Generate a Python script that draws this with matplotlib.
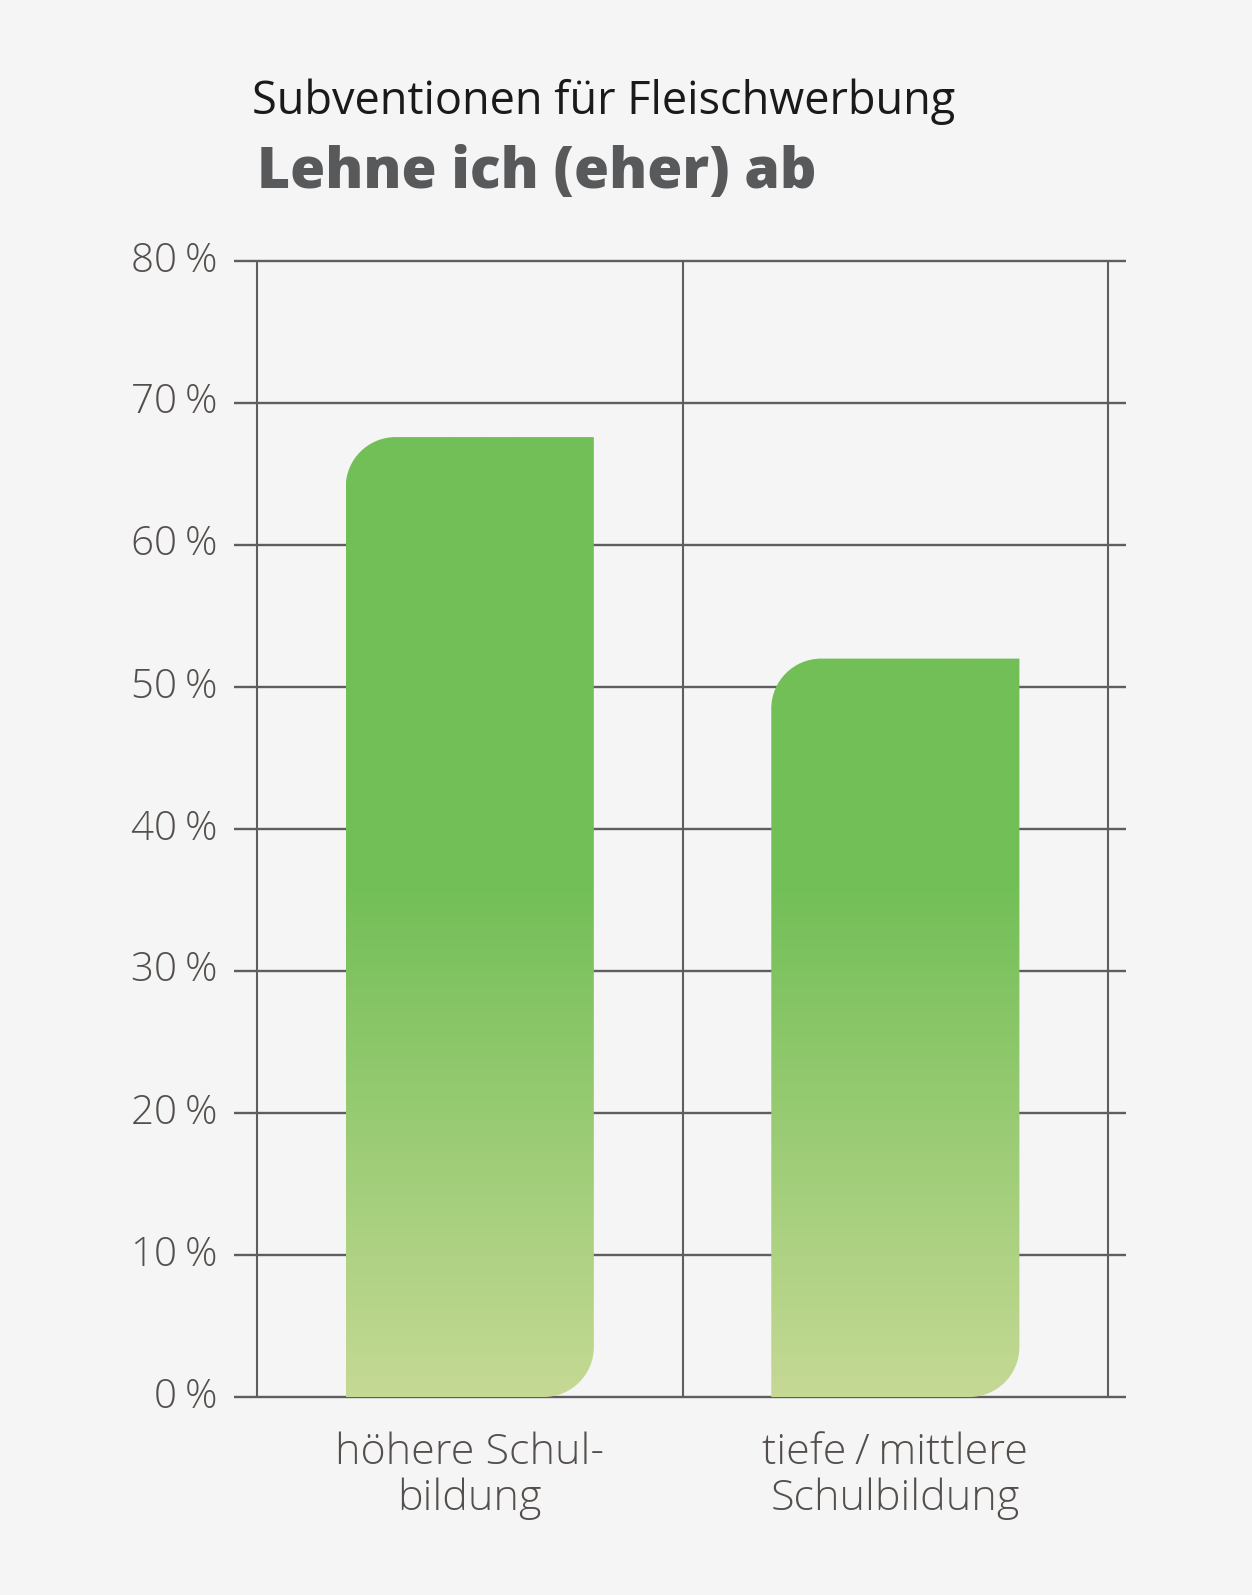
import numpy as np
import matplotlib
matplotlib.use("Agg")
import matplotlib.pyplot as plt
from matplotlib.path import Path
from matplotlib.patches import PathPatch
from matplotlib.colors import LinearSegmentedColormap

# data
categories = ["höhere Schul-\nbildung", "tiefe\u2009/\u2009mittlere\nSchulbildung"]
values = [67.6, 52.0]
y_ticks = [0, 10, 20, 30, 40, 50, 60, 70, 80]
title_top = "Subventionen für Fleischwerbung"
title_main = "Lehne ich (eher) ab"

W, H, DPI = 1252, 1595, 100
bg = "#f5f5f5"
grid_col = "#5e5e5e"
text_col = "#544f4c"

plt.rcParams['font.family'] = ['Open Sans', 'DejaVu Sans']

fig = plt.figure(figsize=(W / DPI, H / DPI), dpi=DPI, facecolor=bg)

# axes box in pixels: left 234, right 1126, top 261 (80 %), bottom 1397 (0 %)
px_l, px_r, px_t, px_b = 234, 1126, 261, 1397
ax = fig.add_axes([px_l / W, 1 - px_b / H, (px_r - px_l) / W, (px_b - px_t) / H])
ax.set_facecolor(bg)
x_lo, x_hi = -0.554, 1.542
ax.set_xlim(x_lo, x_hi)
ax.set_ylim(0, 80)
for s in ax.spines.values():
    s.set_visible(False)
ax.set_xticks([])
ax.set_yticks([])

# grid
ax.hlines(y_ticks, x_lo, x_hi, color=grid_col, lw=1.7, zorder=1, clip_on=False)
ax.vlines([-0.5, 0.5, 1.5], 0, 80, color=grid_col, lw=1.5, zorder=1, clip_on=False)

# bars with rounded top-left / bottom-right corners and vertical gradient
bar_w = 0.583
r_px = 50
px_per_x = (px_r - px_l) / (x_hi - x_lo)
px_per_y = (px_b - px_t) / 80
rx, ry = r_px / px_per_x, r_px / px_per_y
k = 0.5523

cmap = LinearSegmentedColormap.from_list(
    "g", [(0, "#c5d994"), (0.45, "#72bf57"), (1, "#72bf57")])
grad = np.linspace(0, 1, 400).reshape(-1, 1)

for i, v in enumerate(values):
    x0, x1 = i - bar_w / 2, i + bar_w / 2
    verts = [
        (x0, 0), (x0, v - ry),
        (x0, v - ry + k * ry), (x0 + rx - k * rx, v), (x0 + rx, v),
        (x1, v), (x1, ry),
        (x1, ry - k * ry), (x1 - rx + k * rx, 0), (x1 - rx, 0),
        (x0, 0),
    ]
    codes = [Path.MOVETO, Path.LINETO,
             Path.CURVE4, Path.CURVE4, Path.CURVE4,
             Path.LINETO, Path.LINETO,
             Path.CURVE4, Path.CURVE4, Path.CURVE4,
             Path.CLOSEPOLY]
    patch = PathPatch(Path(verts, codes), facecolor="none", edgecolor="none")
    ax.add_patch(patch)
    im = ax.imshow(grad, cmap=cmap, origin="lower", aspect="auto",
                   extent=(x0, x1, 0, 80), zorder=2, interpolation="bilinear")
    im.set_clip_path(patch)

ax.set_xlim(x_lo, x_hi)
ax.set_ylim(0, 80)

# y tick labels
for t in y_ticks:
    ax.text(x_lo - 17 / px_per_x, t, f"{t}\u2009%", ha="right", va="center",
            fontsize=29, color=text_col, fontweight="light")

# category labels
for i, c in enumerate(categories):
    ax.annotate(c, (i, 0), xytext=(0, -25), textcoords="offset points",
                ha="center", va="top", fontsize=31, color=text_col,
                linespacing=1.1, fontweight="light")

# titles
fig.text(252 / W, 1 - 114 / H, title_top, ha="left", va="baseline",
         fontsize=32.5, color="#1a1a1a")
fig.text(257 / W, 1 - 188 / H, title_main, ha="left", va="baseline",
         fontsize=41, color="#58595b", fontweight="heavy")

fig.savefig("out.png", dpi=DPI, facecolor=bg)
